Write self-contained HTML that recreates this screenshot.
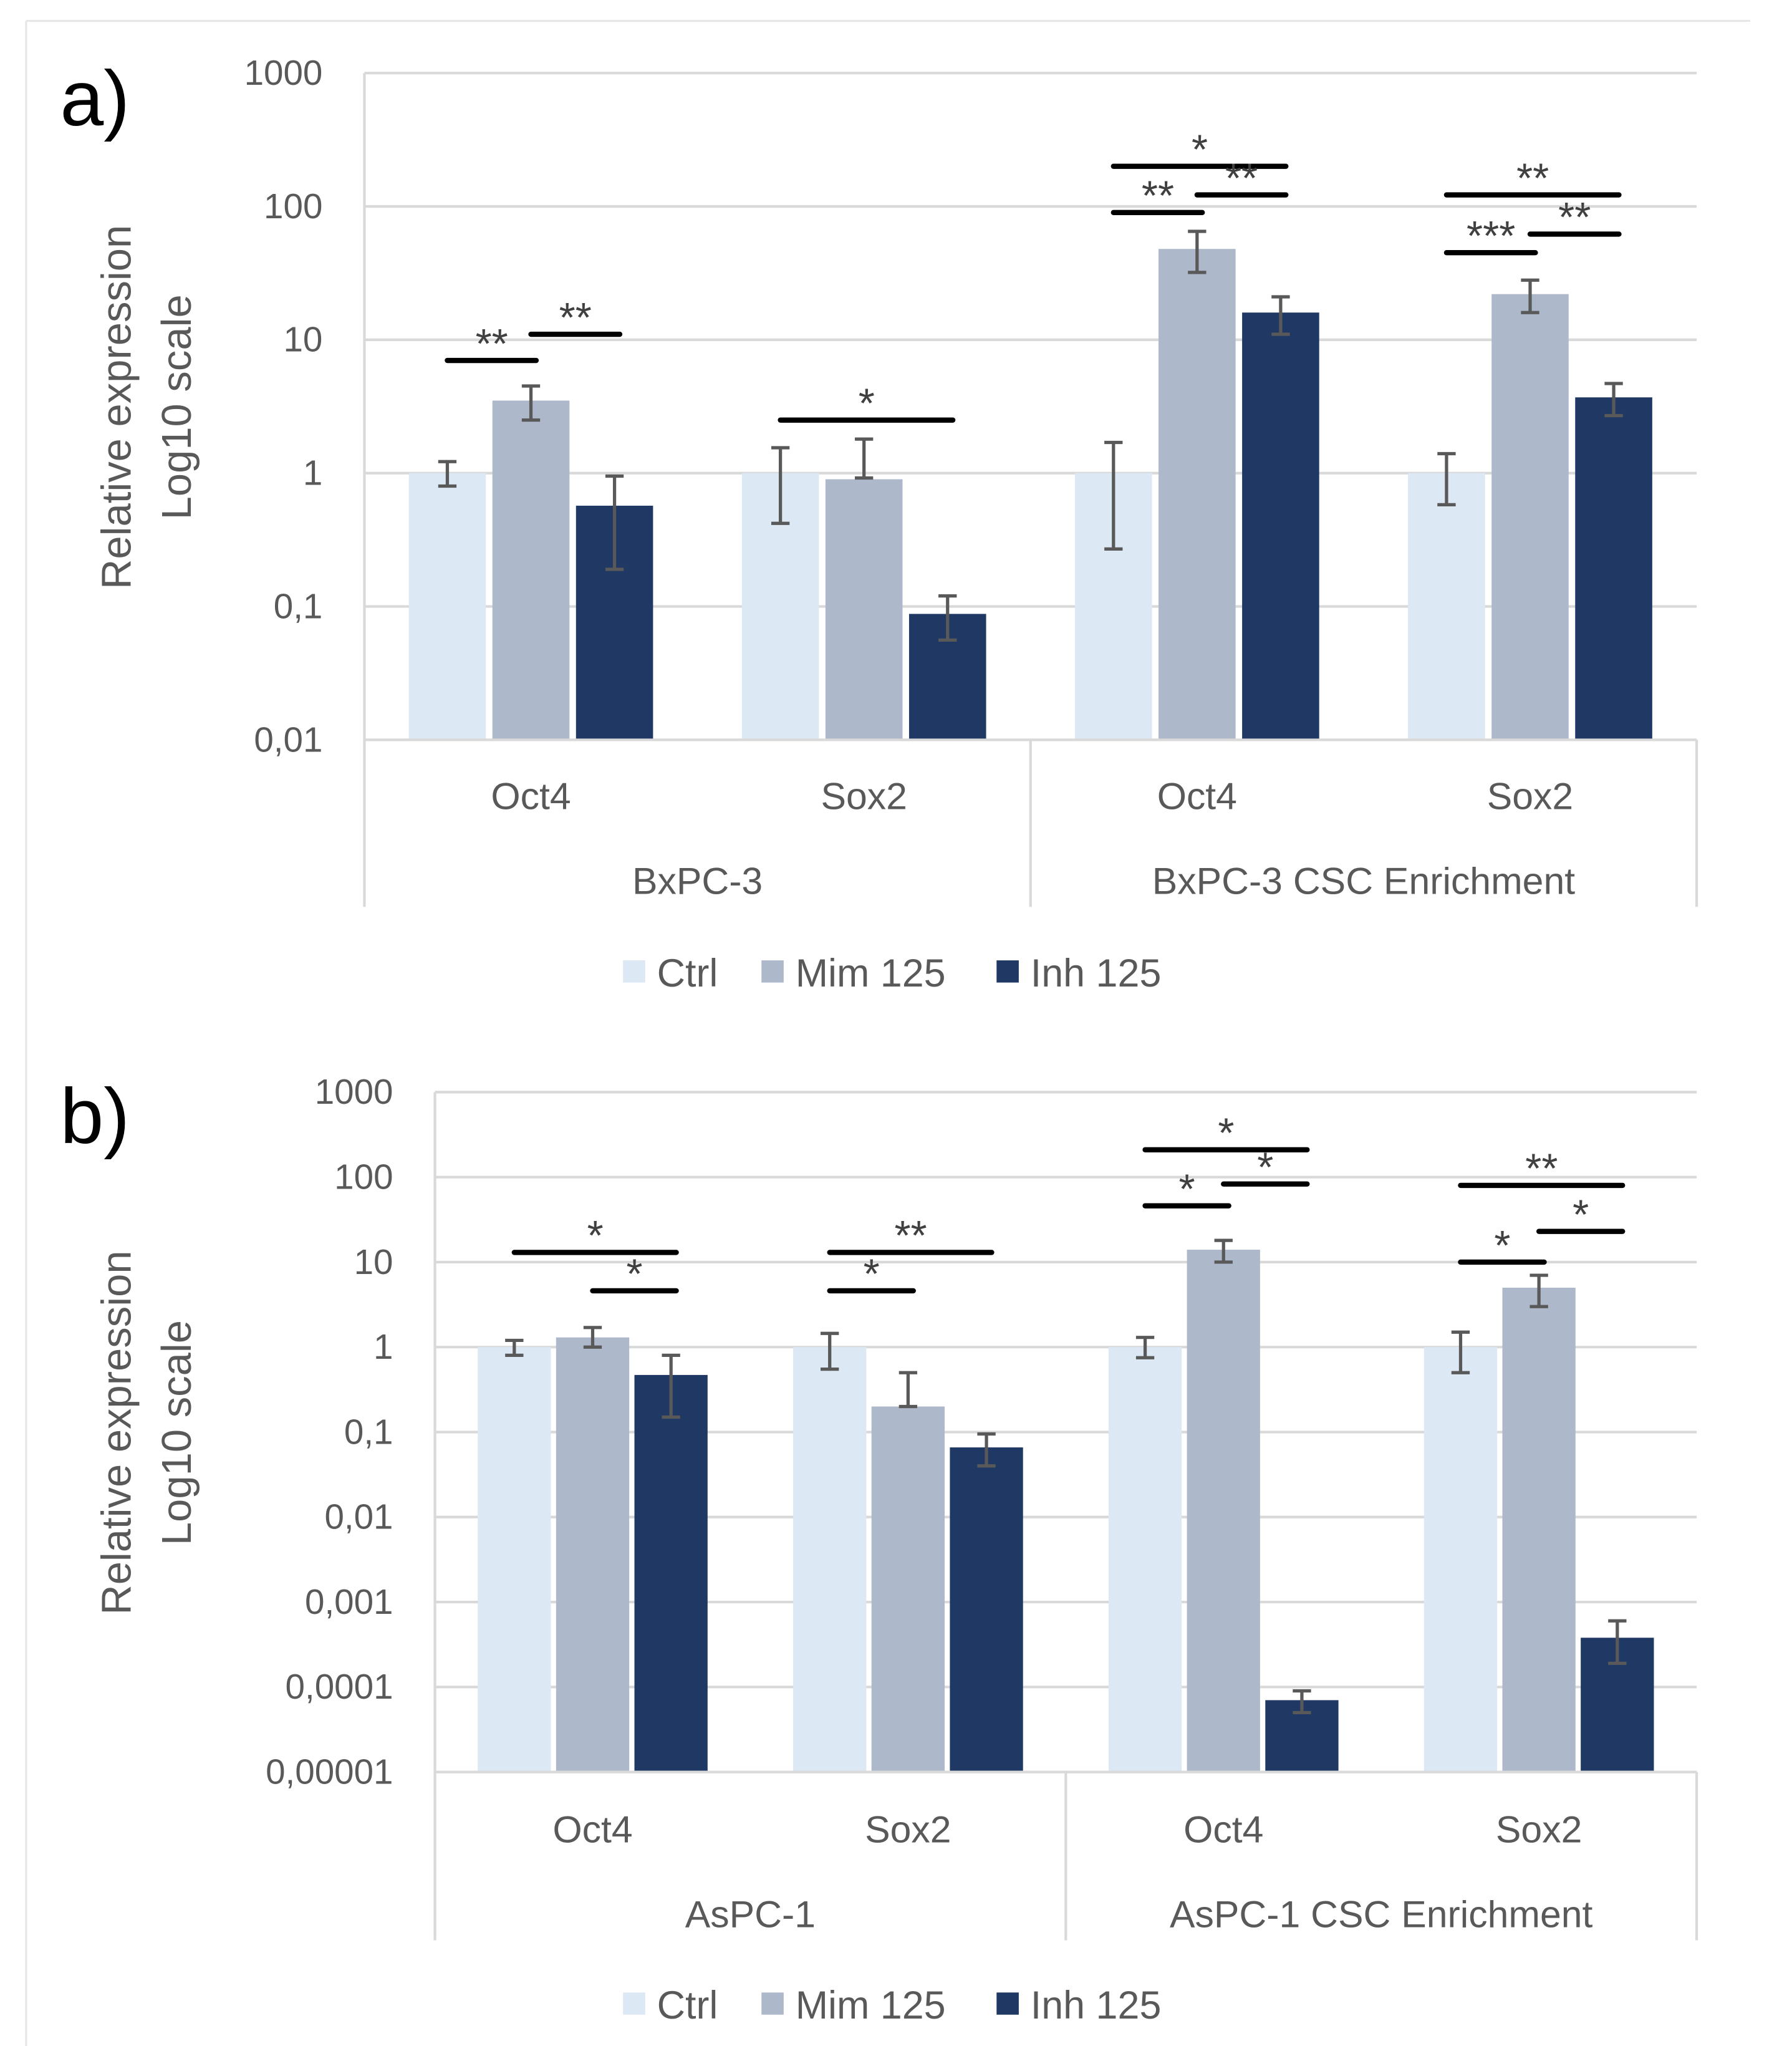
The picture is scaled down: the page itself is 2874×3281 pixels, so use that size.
<!DOCTYPE html>
<html><head><meta charset="utf-8"><style>
html,body{margin:0;padding:0;background:#fff}
svg{display:block}
text{font-family:"Liberation Sans",sans-serif}
</style></head><body>
<svg id="fig" width="2874" height="3281" viewBox="0 0 1372 1568" preserveAspectRatio="none" xmlns="http://www.w3.org/2000/svg">
<rect x="0" y="0" width="1372" height="1568" fill="#fff"/>
<line x1="20" y1="16" x2="1340" y2="16" stroke="#e6e6e6" stroke-width="1.5"/>
<line x1="20" y1="16" x2="20" y2="1568" stroke="#e6e6e6" stroke-width="1.5"/>
<g id="chartA"></g>
<g id="chartB"></g>
</svg>
<script>
// ---------- data ----------
const seriesNames = ["Ctrl","Mim 125","Inh 125"];
const genes = ["Oct4","Sox2"];
const groupsA = ["BxPC-3","BxPC-3 CSC Enrichment"];
const groupsB = ["AsPC-1","AsPC-1 CSC Enrichment"];
const ticksA = ["0,01","0,1","1","10","100","1000"];
const ticksB = ["0,00001","0,0001","0,001","0,01","0,1","1","10","100","1000"];
// per category: [Oct4, Sox2, CSC Oct4, CSC Sox2]
const ctrlA = [1,1,1,1];
const mimA  = [3.5,0.9,48,22];
const inhA  = [0.57,0.088,16,3.7];
const ctrlA_lo = [0.8,0.42,0.27,0.58],  ctrlA_hi = [1.22,1.55,1.7,1.4];
const mimA_lo  = [2.5,0.92,32,16],      mimA_hi  = [4.5,1.8,65,28];
const inhA_lo  = [0.19,0.056,11,2.7],   inhA_hi  = [0.95,0.12,21,4.7];
const ctrlB = [1,1,1,1];
const mimB  = [1.3,0.2,14,5];
const inhB  = [0.47,0.066,0.00007,0.00038];
const ctrlB_lo = [0.8,0.55,0.75,0.5],   ctrlB_hi = [1.2,1.45,1.3,1.5];
const mimB_lo  = [1.0,0.2,10,3],        mimB_hi  = [1.7,0.5,18,7];
const inhB_lo  = [0.15,0.04,0.00005,0.00019], inhB_hi = [0.8,0.095,0.00009,0.0006];
// significance: [category, fromSeries, toSeries, yValue, label]
const sigA = [[0,0,1,7,"**"],[0,1,2,11,"**"],[1,0,2,2.5,"*"],
  [2,0,2,200,"*"],[2,0,1,90,"**"],[2,1,2,122,"**"],
  [3,0,2,122,"**"],[3,0,1,45,"***"],[3,1,2,62,"**"]];
const sigB = [[0,0,2,13,"*"],[0,1,2,4.6,"*"],[1,0,2,13,"**"],[1,0,1,4.6,"*"],
  [2,0,2,210,"*"],[2,0,1,46,"*"],[2,1,2,83,"*"],
  [3,0,2,80,"**"],[3,0,1,10,"*"],[3,1,2,23,"*"]];
const colors = ["#dde8f5","#adb9cb","#203864"];
const NS="http://www.w3.org/2000/svg";
function mk(parent,tag,attrs,txt){const e=document.createElementNS(NS,tag);for(const k in attrs)e.setAttribute(k,attrs[k]);if(txt!==undefined)e.textContent=txt;parent.appendChild(e);return e;}

function draw(g,cfg){
  const {left,right,top,bottom,axisBottom,minExp,maxExp,ticks,groups,vals,lo,hi,sig,barW,gap,labelTag,labelY,catY,grpY,legY,titleCx,titleY} = cfg;
  const y = v => bottom - (Math.log10(v)-minExp)/(maxExp-minExp)*(bottom-top);
  const cw=(right-left)/4;
  const bx=(c,s)=>left+cw*c+cw/2+(s-1)*(barW+gap)-barW/2;
  ticks.forEach((t,i)=>{
    const yy=y(Math.pow(10,minExp+i));
    const gl=mk(g,"line",{x1:left,x2:right,y1:yy,y2:yy,stroke:"#d9d9d9","stroke-width":2});
    
    
    const tl=mk(g,"text",{x:left-32,y:yy+9,"text-anchor":"end","font-size":27,fill:"#595959"},t);
    
    
  });
  for(let c=0;c<4;c++)for(let s=0;s<3;s++){
    const v=vals[s][c];const x=bx(c,s);
    const r=mk(g,"rect",{x:x,y:y(v),width:barW,height:bottom-y(v),fill:colors[s]});
    
    
    const cx=x+barW/2, y1=y(lo[s][c]), y2=y(hi[s][c]);
    const eb=mk(g,"path",{d:`M${cx},${y1}V${y2}M${cx-7},${y1}H${cx+7}M${cx-7},${y2}H${cx+7}`,stroke:"#595959","stroke-width":2.5,fill:"none"});
    
    
  }
  mk(g,"line",{x1:left,x2:left,y1:top,y2:axisBottom,stroke:"#d9d9d9","stroke-width":2});
  mk(g,"line",{x1:right,x2:right,y1:bottom,y2:axisBottom,stroke:"#d9d9d9","stroke-width":2});
  mk(g,"line",{x1:(left+right)/2,x2:(left+right)/2,y1:bottom,y2:axisBottom,stroke:"#d9d9d9","stroke-width":2});
  mk(g,"line",{x1:left,x2:right,y1:bottom,y2:bottom,stroke:"#d9d9d9","stroke-width":2});
  for(let c=0;c<4;c++){
    const cl=mk(g,"text",{x:left+cw*c+cw/2,y:catY,"text-anchor":"middle","font-size":29,fill:"#595959"},genes[c%2]);
    
    
  }
  groups.forEach((gn,i)=>{
    const gl=mk(g,"text",{x:left+cw*(2*i+1),y:grpY,"text-anchor":"middle","font-size":29,fill:"#595959"},gn);
    
    
  });
  sig.forEach(sg=>{
    const [c,a,b,v,lab]=sg;
    const x1=bx(c,a)+barW/2, x2=bx(c,b)+barW/2+4, yy=y(v);
    const ln=mk(g,"line",{x1:x1,x2:x2,y1:yy,y2:yy,stroke:"#000","stroke-width":4,"stroke-linecap":"round"});
    
    
    const st=mk(g,"text",{x:(x1+x2)/2,y:yy-2,"text-anchor":"middle","font-size":32,fill:"#404040"},lab);
    
    
  });
  const t1=mk(g,"text",{x:0,y:0,transform:`translate(${titleCx-20},${titleY}) rotate(-90)`,"text-anchor":"middle","font-size":32,fill:"#595959"},"Relative expression");
  
  
  const t2=mk(g,"text",{x:0,y:0,transform:`translate(${titleCx+26},${titleY}) rotate(-90)`,"text-anchor":"middle","font-size":32,fill:"#595959"},"Log10 scale");
  
  
  const pl=mk(g,"text",{x:46,y:labelY,"font-size":60,fill:"#000"},labelTag);
  
  
  const lx=[477,583,763];
  seriesNames.forEach((n,i)=>{
    const sw=mk(g,"rect",{x:lx[i],y:legY-9,width:17,height:17,fill:colors[i]});
    
    
    const lt=mk(g,"text",{x:lx[i]+26,y:legY+11,"font-size":30,fill:"#595959"},n);
    
    
  });
}
draw(document.getElementById('chartA'),{left:279,right:1299,top:56,bottom:567,axisBottom:695,minExp:-2,maxExp:3,
  ticks:ticksA,groups:groupsA,vals:[ctrlA,mimA,inhA],lo:[ctrlA_lo,mimA_lo,inhA_lo],hi:[ctrlA_hi,mimA_hi,inhA_hi],
  sig:sigA,barW:59,gap:5,labelTag:"a)",labelY:96,catY:620,grpY:685,legY:745,titleCx:120,titleY:312});
draw(document.getElementById('chartB'),{left:333,right:1299,top:837,bottom:1358,axisBottom:1487,minExp:-5,maxExp:3,
  ticks:ticksB,groups:groupsB,vals:[ctrlB,mimB,inhB],lo:[ctrlB_lo,mimB_lo,inhB_lo],hi:[ctrlB_hi,mimB_hi,inhB_hi],
  sig:sigB,barW:56,gap:4,labelTag:"b)",labelY:876,catY:1412,grpY:1477,legY:1536,titleCx:120,titleY:1098});
</script>
</body></html>
